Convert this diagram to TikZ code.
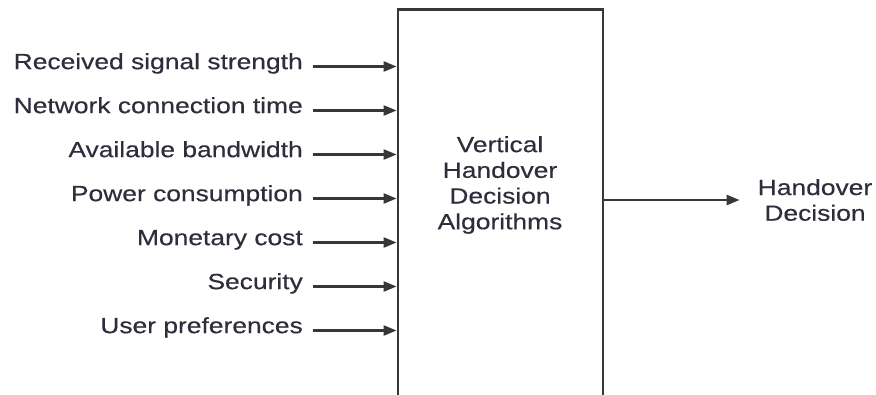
\documentclass[tikz,border=0pt]{standalone}
\usepackage{fontspec}
\setmainfont{Liberation Sans}[FakeStretch=1.2, FakeBold=0.4]
\usetikzlibrary{arrows.meta}

\definecolor{ink}{RGB}{45,45,60}
\definecolor{wire}{RGB}{55,55,55}

\tikzset{every picture/.append style={x=1pt, y=-1pt}}
\tikzset{
  lbl/.style={anchor=mid east, inner xsep=10pt, inner ysep=0pt, text=ink},
  inarrow/.style={-{Triangle[length=13pt, width=10pt]}, line width=2.4pt, draw=wire},
}

\begin{document}
\begin{tikzpicture}[font=\fontsize{22}{25.7}\selectfont]
  \useasboundingbox (0,0) rectangle (876,394);
  \clip (0,0) rectangle (876,394);
  % the block, open at the bottom
  \node[draw=wire, line width=2.8pt, minimum width=205pt, minimum height=440pt, anchor=north] (alg) at (500.5,8) {};
  \node[align=center, text=ink] (algtext) at (500,185) {Vertical\\Handover\\Decision\\Algorithms};
  % inputs
  \node[lbl] (rss) at (313,66.5) {Received signal strength};
  \node[lbl] (nct) at (313,110.5) {Network connection time};
  \node[lbl] (bw) at (313,154.5) {Available bandwidth};
  \node[lbl] (pwr) at (313,198.5) {Power consumption};
  \node[lbl] (cost) at (313,242.5) {Monetary cost};
  \node[lbl] (sec) at (313,286.5) {Security};
  \node[lbl] (pref) at (313,330.5) {User preferences};
  \draw[inarrow] (rss.mid east) -- (rss.mid east -| alg.west);
  \draw[inarrow] (nct.mid east) -- (nct.mid east -| alg.west);
  \draw[inarrow] (bw.mid east) -- (bw.mid east -| alg.west);
  \draw[inarrow] (pwr.mid east) -- (pwr.mid east -| alg.west);
  \draw[inarrow] (cost.mid east) -- (cost.mid east -| alg.west);
  \draw[inarrow] (sec.mid east) -- (sec.mid east -| alg.west);
  \draw[inarrow] (pref.mid east) -- (pref.mid east -| alg.west);
  % output
  \node[align=center, text=ink, inner xsep=18pt] (hd) at (815,200) {Handover\\Decision};
  \draw[inarrow] (alg.east |- hd) -- (hd.west);
\end{tikzpicture}
\end{document}
